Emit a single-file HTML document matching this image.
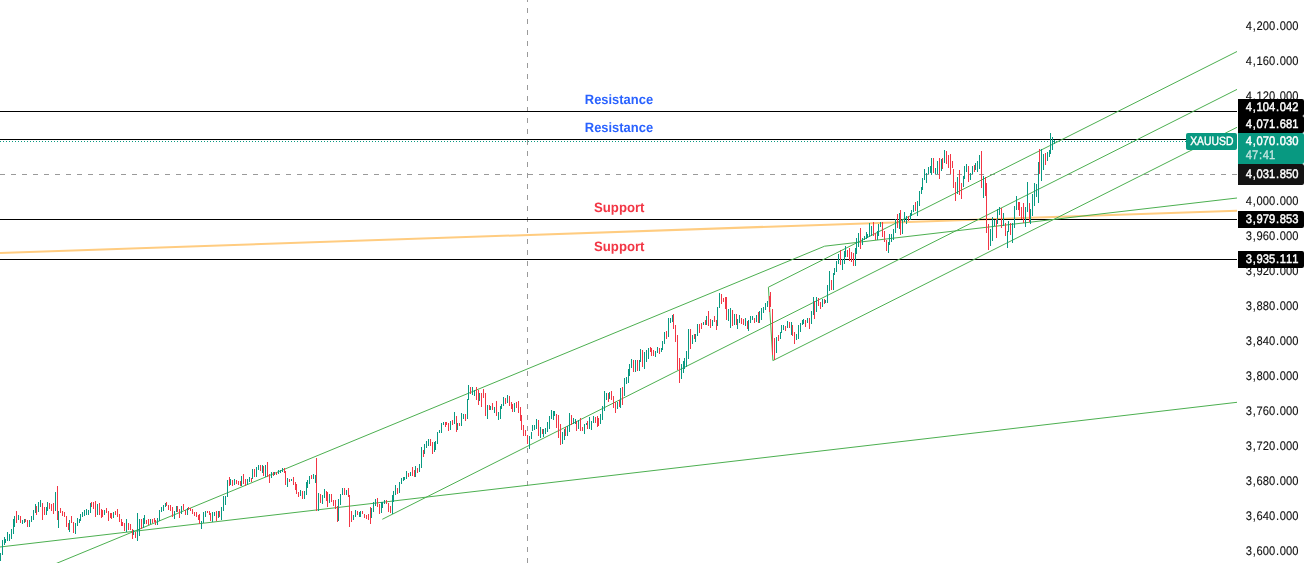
<!DOCTYPE html>
<html lang="en"><head><meta charset="utf-8"><title>XAUUSD chart</title>
<style>html,body{margin:0;padding:0;background:#fff;overflow:hidden}svg{display:block}text{white-space:pre}</style></head>
<body>
<svg width="1309" height="563" viewBox="0 0 1309 563" font-family="'Liberation Sans', Arial, sans-serif" text-rendering="geometricPrecision">
<rect width="1309" height="563" fill="#fff"/>
<defs><clipPath id="pane"><rect x="0" y="0" width="1237" height="563"/></clipPath></defs>
<g clip-path="url(#pane)">
<g shape-rendering="crispEdges">
<line x1="527.5" y1="-3" x2="527.5" y2="563" stroke="#9a9a9a" stroke-width="1" stroke-dasharray="5 6"/>
<line x1="0" y1="174.5" x2="1237" y2="174.5" stroke="#9a9a9a" stroke-width="1" stroke-dasharray="5 6"/>
</g>
<line x1="0" y1="253" x2="1237" y2="210.7" stroke="#ffcc80" stroke-width="2"/>
<rect x="0" y="111" width="1237" height="1" fill="#000" shape-rendering="crispEdges"/>
<rect x="0" y="139" width="1237" height="1" fill="#000" shape-rendering="crispEdges"/>
<rect x="0" y="219" width="1237" height="1" fill="#000" shape-rendering="crispEdges"/>
<rect x="0" y="259" width="1237" height="1" fill="#000" shape-rendering="crispEdges"/>
<g stroke="#4caf50" stroke-width="1" fill="none" stroke-linecap="butt">
<line x1="0" y1="547" x2="1237" y2="402.3"/>
<polyline points="0,586.7 824.6,246.2 1237,198.0"/>
<line x1="382.3" y1="519.3" x2="1237" y2="89.4"/>
<polyline points="1237,51.5 768.4,287.2 772.9,360.6 1237,127.3"/>
</g>
<g shape-rendering="crispEdges">
<line x1="0" y1="141.5" x2="1237" y2="141.5" stroke="#089981" stroke-width="1" stroke-dasharray="1 2"/>
<path fill="#089981" d="M0 553h1v8h-1zM2 540h1v15h-1zM4 537h1v8h-1zM5 539h1v4h-1zM7 532h1v9h-1zM9 534h1v7h-1zM11 529h1v10h-1zM13 519h1v15h-1zM14 516h1v11h-1zM18 515h1v5h-1zM22 520h1v4h-1zM24 519h1v4h-1zM29 520h1v7h-1zM31 516h1v6h-1zM33 510h1v10h-1zM35 504h1v9h-1zM38 502h1v10h-1zM40 500h1v7h-1zM46 507h1v8h-1zM47 502h1v9h-1zM55 492h1v19h-1zM58 511h1v17h-1zM69 520h1v12h-1zM75 523h1v11h-1zM77 518h1v8h-1zM79 519h1v4h-1zM80 514h1v7h-1zM82 512h1v5h-1zM84 510h1v6h-1zM86 509h1v6h-1zM88 510h1v5h-1zM90 503h1v10h-1zM97 504h1v11h-1zM104 510h1v5h-1zM113 512h1v6h-1zM126 519h1v13h-1zM133 530h1v5h-1zM137 513h1v28h-1zM139 519h1v17h-1zM143 518h1v10h-1zM144 515h1v9h-1zM150 519h1v5h-1zM157 518h1v7h-1zM159 510h1v11h-1zM161 507h1v5h-1zM163 505h1v6h-1zM165 503h1v4h-1zM174 511h1v8h-1zM176 506h1v6h-1zM181 506h1v8h-1zM187 508h1v7h-1zM201 521h1v8h-1zM203 512h1v11h-1zM205 511h1v6h-1zM212 512h1v10h-1zM214 512h1v4h-1zM218 511h1v7h-1zM221 507h1v13h-1zM223 496h1v15h-1zM225 496h1v9h-1zM227 480h1v17h-1zM230 479h1v6h-1zM234 479h1v6h-1zM241 476h1v10h-1zM247 479h1v6h-1zM249 477h1v5h-1zM252 469h1v10h-1zM256 467h1v10h-1zM258 465h1v5h-1zM262 465h1v8h-1zM265 465h1v12h-1zM271 472h1v6h-1zM274 472h1v3h-1zM278 470h1v4h-1zM280 470h1v3h-1zM282 468h1v4h-1zM287 478h1v9h-1zM291 479h1v2h-1zM300 490h1v6h-1zM304 491h1v8h-1zM306 482h1v13h-1zM307 480h1v8h-1zM309 476h1v8h-1zM313 474h1v5h-1zM315 475h1v8h-1zM318 493h1v18h-1zM322 495h1v9h-1zM324 489h1v9h-1zM329 494h1v9h-1zM338 499h1v22h-1zM340 494h1v11h-1zM342 488h1v7h-1zM346 490h1v5h-1zM353 515h1v5h-1zM355 510h1v7h-1zM359 512h1v5h-1zM360 511h1v6h-1zM371 508h1v10h-1zM373 502h1v10h-1zM375 499h1v7h-1zM381 502h1v11h-1zM382 502h1v6h-1zM384 500h1v4h-1zM392 495h1v19h-1zM393 491h1v11h-1zM395 485h1v10h-1zM399 482h1v11h-1zM401 478h1v6h-1zM403 477h1v4h-1zM404 477h1v3h-1zM406 471h1v8h-1zM410 472h1v4h-1zM415 466h1v11h-1zM419 464h1v8h-1zM421 447h1v21h-1zM424 444h1v10h-1zM426 441h1v7h-1zM428 439h1v7h-1zM434 442h1v10h-1zM435 441h1v9h-1zM437 432h1v12h-1zM439 430h1v3h-1zM441 423h1v10h-1zM443 422h1v3h-1zM450 421h1v9h-1zM454 412h1v12h-1zM457 423h1v7h-1zM461 413h1v13h-1zM463 414h1v5h-1zM467 399h1v20h-1zM468 385h1v15h-1zM472 387h1v8h-1zM474 390h1v6h-1zM479 393h1v8h-1zM487 405h1v14h-1zM490 406h1v4h-1zM494 407h1v6h-1zM498 412h1v8h-1zM500 406h1v13h-1zM501 404h1v5h-1zM503 397h1v9h-1zM507 395h1v8h-1zM514 403h1v9h-1zM529 436h1v13h-1zM531 432h1v7h-1zM532 425h1v6h-1zM534 425h1v5h-1zM536 419h1v10h-1zM540 427h1v11h-1zM543 429h1v8h-1zM545 428h1v6h-1zM547 422h1v10h-1zM549 416h1v13h-1zM551 410h1v9h-1zM553 411h1v9h-1zM554 411h1v5h-1zM562 432h1v12h-1zM564 429h1v11h-1zM567 426h1v10h-1zM569 413h1v19h-1zM573 418h1v6h-1zM575 419h1v5h-1zM578 420h1v9h-1zM584 424h1v10h-1zM586 423h1v2h-1zM589 417h1v12h-1zM591 421h1v9h-1zM593 416h1v7h-1zM600 414h1v10h-1zM602 406h1v14h-1zM604 391h1v20h-1zM606 393h1v7h-1zM609 392h1v7h-1zM617 402h1v7h-1zM620 388h1v20h-1zM624 378h1v18h-1zM626 377h1v7h-1zM628 369h1v14h-1zM629 364h1v12h-1zM631 359h1v9h-1zM635 360h1v12h-1zM639 360h1v11h-1zM640 349h1v13h-1zM644 352h1v17h-1zM646 350h1v12h-1zM648 348h1v11h-1zM655 351h1v6h-1zM657 347h1v6h-1zM661 348h1v4h-1zM662 341h1v9h-1zM664 332h1v12h-1zM668 318h1v19h-1zM670 318h1v5h-1zM672 315h1v7h-1zM681 364h1v15h-1zM683 361h1v12h-1zM684 358h1v11h-1zM686 351h1v16h-1zM688 329h1v30h-1zM692 335h1v9h-1zM695 334h1v8h-1zM697 324h1v12h-1zM703 322h1v3h-1zM706 316h1v9h-1zM712 320h1v6h-1zM717 307h1v19h-1zM719 293h1v15h-1zM728 309h1v12h-1zM730 308h1v20h-1zM734 314h1v11h-1zM737 319h1v10h-1zM739 315h1v8h-1zM745 318h1v8h-1zM748 320h1v11h-1zM750 316h1v7h-1zM752 316h1v4h-1zM756 315h1v7h-1zM759 311h1v12h-1zM761 308h1v12h-1zM763 307h1v6h-1zM765 303h1v7h-1zM767 301h1v6h-1zM776 337h1v16h-1zM780 332h1v7h-1zM781 325h1v8h-1zM783 325h1v5h-1zM787 321h1v7h-1zM791 322h1v13h-1zM796 334h1v6h-1zM798 325h1v14h-1zM800 323h1v9h-1zM802 320h1v5h-1zM803 319h1v5h-1zM807 318h1v5h-1zM811 311h1v13h-1zM813 297h1v18h-1zM816 297h1v15h-1zM822 299h1v8h-1zM825 300h1v3h-1zM827 285h1v18h-1zM829 271h1v20h-1zM833 273h1v17h-1zM834 268h1v7h-1zM836 261h1v11h-1zM838 254h1v10h-1zM842 259h1v11h-1zM844 251h1v13h-1zM845 246h1v11h-1zM855 248h1v18h-1zM856 238h1v16h-1zM858 233h1v14h-1zM862 238h1v7h-1zM864 236h1v4h-1zM866 232h1v7h-1zM867 234h1v4h-1zM869 223h1v14h-1zM871 226h1v10h-1zM877 231h1v9h-1zM878 224h1v12h-1zM880 222h1v5h-1zM888 242h1v11h-1zM889 234h1v11h-1zM891 234h1v8h-1zM893 229h1v11h-1zM895 219h1v14h-1zM899 213h1v16h-1zM902 220h1v14h-1zM904 212h1v10h-1zM906 216h1v8h-1zM910 213h1v7h-1zM911 210h1v6h-1zM913 205h1v7h-1zM917 201h1v15h-1zM919 191h1v15h-1zM921 187h1v7h-1zM922 178h1v12h-1zM924 169h1v11h-1zM926 173h1v10h-1zM928 167h1v7h-1zM930 166h1v7h-1zM931 158h1v17h-1zM935 168h1v6h-1zM937 161h1v13h-1zM941 159h1v12h-1zM944 150h1v13h-1zM957 177h1v17h-1zM963 176h1v11h-1zM964 166h1v13h-1zM966 164h1v8h-1zM970 173h1v7h-1zM972 166h1v8h-1zM975 163h1v7h-1zM977 161h1v11h-1zM979 155h1v14h-1zM983 176h1v22h-1zM990 229h1v17h-1zM992 217h1v24h-1zM994 220h1v6h-1zM997 209h1v15h-1zM999 207h1v8h-1zM1003 213h1v13h-1zM1007 231h1v17h-1zM1008 221h1v11h-1zM1012 223h1v20h-1zM1014 206h1v22h-1zM1016 196h1v14h-1zM1025 207h1v20h-1zM1027 182h1v30h-1zM1030 209h1v15h-1zM1032 194h1v22h-1zM1034 183h1v23h-1zM1036 184h1v13h-1zM1038 162h1v41h-1zM1041 149h1v32h-1zM1043 154h1v16h-1zM1047 152h1v9h-1zM1049 150h1v7h-1zM1050 133h1v21h-1zM1052 137h1v13h-1zM1054 140h1v4h-1z"/>
<path fill="#f23645" d="M16 511h1v12h-1zM20 516h1v7h-1zM25 519h1v3h-1zM27 520h1v7h-1zM36 506h1v9h-1zM42 503h1v17h-1zM44 507h1v8h-1zM49 503h1v6h-1zM51 504h1v7h-1zM53 503h1v11h-1zM57 486h1v34h-1zM60 508h1v5h-1zM62 511h1v5h-1zM64 512h1v5h-1zM66 516h1v11h-1zM68 523h1v7h-1zM71 516h1v7h-1zM73 522h1v11h-1zM91 502h1v5h-1zM93 502h1v7h-1zM95 501h1v16h-1zM99 503h1v12h-1zM101 509h1v9h-1zM102 510h1v7h-1zM106 508h1v5h-1zM108 511h1v10h-1zM110 513h1v5h-1zM111 513h1v6h-1zM115 511h1v4h-1zM117 509h1v8h-1zM119 514h1v8h-1zM121 519h1v7h-1zM122 522h1v4h-1zM124 523h1v8h-1zM128 523h1v7h-1zM130 524h1v6h-1zM132 529h1v10h-1zM135 532h1v6h-1zM141 519h1v10h-1zM146 520h1v4h-1zM148 519h1v6h-1zM152 519h1v4h-1zM154 518h1v4h-1zM155 520h1v5h-1zM166 502h1v4h-1zM168 505h1v5h-1zM170 505h1v6h-1zM172 507h1v10h-1zM177 506h1v6h-1zM179 509h1v9h-1zM183 504h1v6h-1zM185 510h1v5h-1zM188 507h1v3h-1zM190 508h1v3h-1zM192 509h1v5h-1zM194 512h1v4h-1zM196 512h1v5h-1zM198 515h1v5h-1zM199 514h1v10h-1zM207 511h1v2h-1zM209 511h1v4h-1zM210 513h1v8h-1zM216 511h1v10h-1zM219 511h1v6h-1zM229 477h1v9h-1zM232 480h1v6h-1zM236 480h1v4h-1zM238 481h1v4h-1zM240 481h1v5h-1zM243 474h1v10h-1zM245 479h1v7h-1zM251 478h1v4h-1zM254 469h1v8h-1zM260 465h1v6h-1zM263 466h1v10h-1zM267 462h1v15h-1zM269 474h1v9h-1zM273 472h1v4h-1zM276 472h1v3h-1zM284 468h1v5h-1zM285 471h1v14h-1zM289 479h1v3h-1zM293 477h1v8h-1zM295 482h1v8h-1zM296 484h1v10h-1zM298 492h1v5h-1zM302 491h1v8h-1zM311 475h1v4h-1zM316 458h1v53h-1zM320 494h1v9h-1zM326 491h1v10h-1zM327 492h1v15h-1zM331 494h1v8h-1zM333 500h1v6h-1zM335 500h1v9h-1zM337 506h1v16h-1zM344 488h1v7h-1zM348 488h1v9h-1zM349 495h1v32h-1zM351 511h1v11h-1zM357 511h1v4h-1zM362 511h1v3h-1zM364 514h1v4h-1zM366 515h1v4h-1zM368 514h1v6h-1zM370 507h1v17h-1zM377 498h1v9h-1zM379 504h1v10h-1zM386 500h1v4h-1zM388 503h1v9h-1zM390 506h1v7h-1zM397 488h1v6h-1zM408 473h1v4h-1zM412 467h1v9h-1zM414 470h1v7h-1zM417 468h1v5h-1zM423 450h1v7h-1zM430 439h1v7h-1zM432 442h1v12h-1zM445 422h1v5h-1zM446 422h1v3h-1zM448 423h1v8h-1zM452 420h1v5h-1zM456 416h1v16h-1zM459 423h1v3h-1zM465 414h1v7h-1zM470 387h1v7h-1zM476 387h1v13h-1zM478 390h1v15h-1zM481 393h1v14h-1zM483 389h1v9h-1zM485 393h1v23h-1zM489 405h1v5h-1zM492 403h1v7h-1zM496 401h1v15h-1zM505 398h1v6h-1zM509 396h1v10h-1zM511 402h1v7h-1zM512 404h1v8h-1zM516 402h1v6h-1zM518 401h1v12h-1zM520 407h1v14h-1zM521 415h1v15h-1zM523 425h1v11h-1zM525 430h1v6h-1zM527 435h1v9h-1zM538 420h1v16h-1zM542 429h1v5h-1zM556 414h1v14h-1zM558 415h1v23h-1zM560 424h1v21h-1zM565 427h1v9h-1zM571 415h1v10h-1zM576 421h1v10h-1zM580 418h1v13h-1zM582 427h1v4h-1zM587 421h1v8h-1zM595 417h1v6h-1zM597 416h1v11h-1zM598 418h1v8h-1zM608 393h1v9h-1zM611 391h1v9h-1zM613 396h1v12h-1zM615 402h1v11h-1zM619 400h1v7h-1zM622 387h1v18h-1zM633 360h1v12h-1zM637 360h1v11h-1zM642 350h1v17h-1zM650 347h1v5h-1zM651 348h1v8h-1zM653 350h1v6h-1zM659 348h1v6h-1zM666 331h1v8h-1zM673 314h1v15h-1zM675 325h1v17h-1zM677 335h1v35h-1zM679 358h1v25h-1zM690 329h1v20h-1zM694 334h1v5h-1zM699 324h1v9h-1zM701 323h1v6h-1zM705 320h1v5h-1zM708 311h1v15h-1zM710 319h1v9h-1zM714 316h1v6h-1zM716 320h1v10h-1zM721 294h1v10h-1zM723 298h1v4h-1zM725 297h1v12h-1zM726 297h1v23h-1zM732 310h1v16h-1zM736 314h1v11h-1zM741 318h1v6h-1zM743 319h1v6h-1zM747 321h1v8h-1zM754 318h1v5h-1zM758 312h1v11h-1zM769 296h1v16h-1zM770 292h1v15h-1zM772 309h1v46h-1zM774 338h1v22h-1zM778 335h1v6h-1zM785 326h1v5h-1zM789 322h1v6h-1zM792 325h1v11h-1zM794 332h1v12h-1zM805 320h1v7h-1zM809 318h1v11h-1zM814 301h1v18h-1zM818 298h1v8h-1zM820 302h1v7h-1zM824 299h1v5h-1zM831 280h1v10h-1zM840 250h1v15h-1zM847 250h1v7h-1zM849 248h1v13h-1zM851 252h1v10h-1zM853 253h1v13h-1zM860 228h1v21h-1zM873 222h1v14h-1zM875 233h1v7h-1zM882 222h1v15h-1zM884 231h1v11h-1zM886 240h1v11h-1zM897 214h1v14h-1zM900 210h1v25h-1zM908 216h1v5h-1zM915 202h1v9h-1zM933 158h1v15h-1zM939 158h1v21h-1zM942 158h1v11h-1zM946 151h1v13h-1zM948 155h1v13h-1zM950 154h1v20h-1zM952 161h1v7h-1zM953 169h1v19h-1zM955 182h1v19h-1zM959 170h1v25h-1zM961 183h1v16h-1zM968 166h1v16h-1zM974 165h1v7h-1zM981 151h1v37h-1zM985 177h1v19h-1zM986 183h1v50h-1zM988 224h1v26h-1zM996 219h1v19h-1zM1001 208h1v20h-1zM1005 223h1v13h-1zM1010 223h1v12h-1zM1018 202h1v8h-1zM1019 202h1v14h-1zM1021 207h1v12h-1zM1023 203h1v20h-1zM1029 203h1v19h-1zM1039 149h1v25h-1zM1045 153h1v12h-1z"/>
</g>
</g>
<text x="584.8" y="103.9" fill="#2962ff" font-size="13.6" font-weight="bold" text-anchor="start" textLength="68.3" lengthAdjust="spacingAndGlyphs">Resistance</text>
<text x="584.8" y="131.9" fill="#2962ff" font-size="13.6" font-weight="bold" text-anchor="start" textLength="68.3" lengthAdjust="spacingAndGlyphs">Resistance</text>
<text x="594.0" y="212.1" fill="#f23645" font-size="13.6" font-weight="bold" text-anchor="start" textLength="50.5" lengthAdjust="spacingAndGlyphs">Support</text>
<text x="594.0" y="251.2" fill="#f23645" font-size="13.6" font-weight="bold" text-anchor="start" textLength="50.5" lengthAdjust="spacingAndGlyphs">Support</text>
<text transform="translate(1245.7 30.0) scale(0.93 1.035)" x="0.04 7.46 11.54 18.30 25.07 32.54 36.67 43.43 50.20" y="0" fill="#0f0f0f" font-size="12" stroke="#0f0f0f" stroke-width="0.12">4,200.000</text>
<text transform="translate(1245.7 65.0) scale(0.93 1.035)" x="0.04 7.46 11.54 18.30 25.07 32.54 36.67 43.43 50.20" y="0" fill="#0f0f0f" font-size="12" stroke="#0f0f0f" stroke-width="0.12">4,160.000</text>
<text transform="translate(1245.7 100.0) scale(0.93 1.035)" x="0.04 7.46 11.54 18.30 25.07 32.54 36.67 43.43 50.20" y="0" fill="#0f0f0f" font-size="12" stroke="#0f0f0f" stroke-width="0.12">4,120.000</text>
<text transform="translate(1245.7 204.9) scale(0.93 1.035)" x="0.04 7.46 11.54 18.30 25.07 32.54 36.67 43.43 50.20" y="0" fill="#0f0f0f" font-size="12" stroke="#0f0f0f" stroke-width="0.12">4,000.000</text>
<text transform="translate(1245.7 239.9) scale(0.93 1.035)" x="0.04 7.46 11.54 18.30 25.07 32.54 36.67 43.43 50.20" y="0" fill="#0f0f0f" font-size="12" stroke="#0f0f0f" stroke-width="0.12">3,960.000</text>
<text transform="translate(1245.7 274.8) scale(0.93 1.035)" x="0.04 7.46 11.54 18.30 25.07 32.54 36.67 43.43 50.20" y="0" fill="#0f0f0f" font-size="12" stroke="#0f0f0f" stroke-width="0.12">3,920.000</text>
<text transform="translate(1245.7 309.8) scale(0.93 1.035)" x="0.04 7.46 11.54 18.30 25.07 32.54 36.67 43.43 50.20" y="0" fill="#0f0f0f" font-size="12" stroke="#0f0f0f" stroke-width="0.12">3,880.000</text>
<text transform="translate(1245.7 344.8) scale(0.93 1.035)" x="0.04 7.46 11.54 18.30 25.07 32.54 36.67 43.43 50.20" y="0" fill="#0f0f0f" font-size="12" stroke="#0f0f0f" stroke-width="0.12">3,840.000</text>
<text transform="translate(1245.7 379.8) scale(0.93 1.035)" x="0.04 7.46 11.54 18.30 25.07 32.54 36.67 43.43 50.20" y="0" fill="#0f0f0f" font-size="12" stroke="#0f0f0f" stroke-width="0.12">3,800.000</text>
<text transform="translate(1245.7 414.7) scale(0.93 1.035)" x="0.04 7.46 11.54 18.30 25.07 32.54 36.67 43.43 50.20" y="0" fill="#0f0f0f" font-size="12" stroke="#0f0f0f" stroke-width="0.12">3,760.000</text>
<text transform="translate(1245.7 449.7) scale(0.93 1.035)" x="0.04 7.46 11.54 18.30 25.07 32.54 36.67 43.43 50.20" y="0" fill="#0f0f0f" font-size="12" stroke="#0f0f0f" stroke-width="0.12">3,720.000</text>
<text transform="translate(1245.7 484.7) scale(0.93 1.035)" x="0.04 7.46 11.54 18.30 25.07 32.54 36.67 43.43 50.20" y="0" fill="#0f0f0f" font-size="12" stroke="#0f0f0f" stroke-width="0.12">3,680.000</text>
<text transform="translate(1245.7 519.7) scale(0.93 1.035)" x="0.04 7.46 11.54 18.30 25.07 32.54 36.67 43.43 50.20" y="0" fill="#0f0f0f" font-size="12" stroke="#0f0f0f" stroke-width="0.12">3,640.000</text>
<text transform="translate(1245.7 554.6) scale(0.93 1.035)" x="0.04 7.46 11.54 18.30 25.07 32.54 36.67 43.43 50.20" y="0" fill="#0f0f0f" font-size="12" stroke="#0f0f0f" stroke-width="0.12">3,600.000</text>
<path fill="#000" d="M1238 99h64a2 2 0 0 1 2 2v13a2 2 0 0 1 -2 2h-64z"/>
<path fill="#000" d="M1238 116h64a2 2 0 0 1 2 2v13a2 2 0 0 1 -2 2h-64z"/>
<path fill="#089981" d="M1238 133h64a2 2 0 0 1 2 2v27a2 2 0 0 1 -2 2h-64z"/>
<path fill="#131313" d="M1238 164h64a2 2 0 0 1 2 2v17a2 2 0 0 1 -2 2h-64z"/>
<path fill="#000" d="M1238 211h64a2 2 0 0 1 2 2v13a2 2 0 0 1 -2 2h-64z"/>
<path fill="#000" d="M1238 251h64a2 2 0 0 1 2 2v13a2 2 0 0 1 -2 2h-64z"/>
<rect x="1186" y="133" width="51" height="17" rx="2" fill="#089981"/>
<text x="1190.2" y="145.3" fill="#fff" font-size="12" font-weight="normal" text-anchor="start" textLength="43.2" lengthAdjust="spacingAndGlyphs" stroke="#fff" stroke-width="0.4">XAUUSD</text>
<text transform="translate(1245.7 110.7) scale(0.93 1.035)" x="0.04 7.46 11.54 18.30 25.07 32.54 36.67 43.43 50.20" y="0" fill="#fff" font-size="12" stroke="#fff" stroke-width="0.45">4,104.042</text>
<text transform="translate(1245.7 127.7) scale(0.93 1.035)" x="0.04 7.46 11.54 18.30 25.07 32.54 36.67 43.43 50.20" y="0" fill="#fff" font-size="12" stroke="#fff" stroke-width="0.45">4,071.681</text>
<text transform="translate(1245.7 144.7) scale(0.93 1.035)" x="0.04 7.46 11.54 18.30 25.07 32.54 36.67 43.43 50.20" y="0" fill="#fff" font-size="12" stroke="#fff" stroke-width="0.45">4,070.030</text>
<text transform="translate(1245.7 158.8) scale(0.93 1.035)" x="0.04 6.81 14.23 18.30 25.07" y="0" fill="#fff" font-size="12" opacity="0.75" stroke="#fff" stroke-width="0.35">47:41</text>
<text transform="translate(1245.7 177.7) scale(0.93 1.035)" x="0.04 7.46 11.54 18.30 25.07 32.54 36.67 43.43 50.20" y="0" fill="#fff" font-size="12" stroke="#fff" stroke-width="0.45">4,031.850</text>
<text transform="translate(1245.7 222.7) scale(0.93 1.035)" x="0.04 7.46 11.54 18.30 25.07 32.54 36.67 43.43 50.20" y="0" fill="#fff" font-size="12" stroke="#fff" stroke-width="0.45">3,979.853</text>
<text transform="translate(1245.7 262.7) scale(0.93 1.035)" x="0.04 7.46 11.54 18.30 25.07 32.54 36.67 43.43 50.20" y="0" fill="#fff" font-size="12" stroke="#fff" stroke-width="0.45">3,935.111</text>
</svg>
</body></html>
